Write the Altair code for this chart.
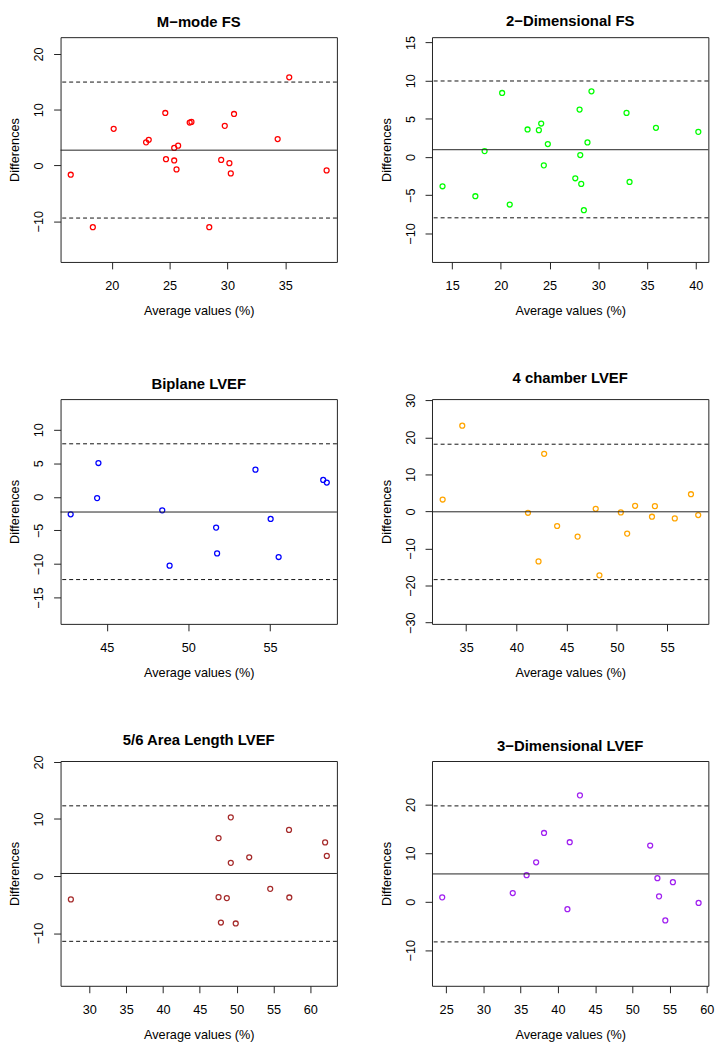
import altair as alt
import pandas as pd

FONT = "Liberation Sans"
W = 278.7
H = 226.7

titles = ["M\u2212mode FS", "2\u2212Dimensional FS", "Biplane LVEF",
          "4 chamber LVEF", "5/6 Area Length LVEF", "3\u2212Dimensional LVEF"]
colors = ["#FF0000", "#00FF00", "#0000FF", "#FFA500", "#A52A2A", "#A020F0"]

# M-mode FS
mmode_avg = [16.46, 18.37, 20.17, 22.97, 23.20, 24.63, 24.69, 25.40, 25.40, 25.74, 25.60,
             26.74, 26.89, 28.43, 29.46, 29.77, 30.17, 30.29, 30.57, 34.34, 35.34, 38.57]
mmode_diff = [-1.66, -11.07, 6.57, 4.14, 4.60, 9.41, 1.12, 0.89, 3.14, 3.55, -0.71,
              7.69, 7.81, -11.07, 1.00, 7.10, 0.41, -1.42, 9.23, 4.73, 15.80, -0.89]
# 2-Dimensional FS
fs2d_avg = [14.01, 17.38, 18.33, 20.13, 20.91, 22.74, 23.90, 24.14, 24.41, 24.82, 27.64,
            28.08, 28.15, 28.25, 28.52, 28.89, 29.30, 32.90, 33.21, 35.92, 40.27]
fs2d_diff = [-3.83, -5.13, 0.78, 8.39, -6.22, 3.61, 3.52, 4.39, -1.09, 1.70, -2.78,
             6.22, 0.26, -3.52, -6.96, 1.91, 8.61, 5.78, -3.26, 3.83, 3.30]
# Biplane LVEF
bip_avg = [42.79, 44.41, 44.49, 48.40, 48.85, 51.70, 51.76, 54.11, 55.04, 55.53, 58.26, 58.48]
bip_diff = [-2.61, -0.20, 5.03, -2.02, -10.26, -4.59, -8.43, 4.04, -3.30, -8.97, 2.51, 2.12]
# 4 chamber LVEF
ch4_avg = [32.66, 34.61, 41.15, 42.20, 42.76, 44.05, 46.09, 47.89, 48.26, 50.39, 51.02,
           51.81, 53.49, 53.78, 55.76, 57.37, 58.09]
ch4_diff = [3.21, 23.13, -0.36, -13.48, 15.54, -3.93, -6.79, 0.71, -17.23, -0.27, -5.98,
            1.52, -1.43, 1.43, -1.88, 4.64, -0.98]
# 5/6 Area Length LVEF
al_avg = [27.50, 47.54, 47.54, 47.86, 48.66, 49.20, 49.20, 49.87, 51.70, 54.55, 57.10,
          57.14, 62.00, 62.23]
al_diff = [-4.10, 6.65, -3.70, -8.15, -3.87, 10.29, 2.31, -8.32, 3.29, -2.25, 8.09,
           -3.76, 5.90, 3.53]
# 3-Dimensional LVEF
d3_avg = [24.47, 33.94, 35.80, 37.08, 38.14, 41.28, 41.59, 42.96, 52.39, 53.36, 53.58,
          54.42, 55.44, 58.89]
d3_diff = [0.88, 1.77, 5.44, 8.10, 14.15, -1.56, 12.24, 21.90, 11.56, 4.83, 1.09,
           -3.88, 4.01, -0.27]

# mean difference and limits of agreement
means = [2.74, 0.96, -2.27, -0.10, 0.45, 5.71]
lowers = [-9.43, -7.96, -12.33, -18.39, -11.45, -8.30]
uppers = [14.95, 9.96, 7.89, 18.13, 12.31, 19.73]

x_domains = [[15.58, 39.46], [12.93, 41.30], [42.17, 59.10], [31.60, 59.10], [26.10, 63.60], [23.10, 60.20]]
y_domains = [[-17.3, 23.0], [-13.74, 15.7], [-18.93, 14.55], [-30.33, 30.3], [-19.25, 20.17], [-17.35, 28.98]]
x_ticks = [[20, 25, 30, 35], [15, 20, 25, 30, 35, 40], [45, 50, 55],
           [35, 40, 45, 50, 55], [30, 35, 40, 45, 50, 55, 60], [25, 30, 35, 40, 45, 50, 55, 60]]
y_ticks = [[-10, 0, 10, 20], [-10, -5, 0, 5, 10, 15], [-15, -10, -5, 0, 5, 10],
           [-30, -20, -10, 0, 10, 20, 30], [-10, 0, 10, 20], [-10, 0, 10, 20]]

avgs = [mmode_avg, fs2d_avg, bip_avg, ch4_avg, al_avg, d3_avg]
diffs = [mmode_diff, fs2d_diff, bip_diff, ch4_diff, al_diff, d3_diff]

MINUS = "replace(datum.label, '-', '\u2212')"


def make_panel(i):
    pts = pd.DataFrame({"avg": avgs[i], "diff": diffs[i]})
    ctr = pd.DataFrame({"diff": [means[i]]})
    lim = pd.DataFrame({"diff": [lowers[i], uppers[i]]})
    xs = alt.Scale(domain=x_domains[i], nice=False, zero=False)
    ys = alt.Scale(domain=y_domains[i], nice=False, zero=False)
    xa = alt.Axis(values=x_ticks[i], tickCount=30, format="d",
                  title="Average values (%)", labelOverlap=False)
    ya = alt.Axis(values=y_ticks[i], tickCount=30, format="d", title="Differences",
                  labelAngle=270, labelAlign="center", labelBaseline="bottom",
                  labelExpr=MINUS, labelOverlap=False)
    points = alt.Chart(pts).mark_point(
        shape="circle", filled=False, color=colors[i], size=25, strokeWidth=1.3, opacity=1
    ).encode(x=alt.X("avg:Q", scale=xs, axis=xa), y=alt.Y("diff:Q", scale=ys, axis=ya))
    mean_rule = alt.Chart(ctr).mark_rule(color="#222", strokeWidth=1).encode(y=alt.Y("diff:Q"))
    lim_rule = alt.Chart(lim).mark_rule(color="#111", strokeWidth=1, strokeDash=[4, 3]).encode(
        y=alt.Y("diff:Q"))
    return alt.layer(points, mean_rule, lim_rule).properties(
        width=W, height=H, title=titles[i])


panels = [make_panel(i) for i in range(6)]

chart = alt.concat(*panels, columns=2, spacing={"row": 138.0, "column": 95.6},
                   bounds="flush").properties(padding=0)
chart = (chart.configure_view(stroke="#222", strokeWidth=1)
         .configure_axis(grid=False, domain=False, tickSize=7, tickColor="#222", tickWidth=1,
                         labelFont=FONT, labelFontSize=12.8, labelColor="#000",
                         titleFont=FONT, titleFontSize=12.8, titleFontWeight="normal",
                         titleColor="#000", labelFlush=False, labelOverlap=False)
         .configure_axisX(labelPadding=10.8, titlePadding=12.8)
         .configure_axisY(labelPadding=7.7, titlePadding=11.5)
         .configure_title(font=FONT, fontSize=15, fontWeight="bold", color="#000",
                          offset=7, anchor="middle"))

chart.save("out.html", embed_options={"renderer": "svg", "actions": False})
